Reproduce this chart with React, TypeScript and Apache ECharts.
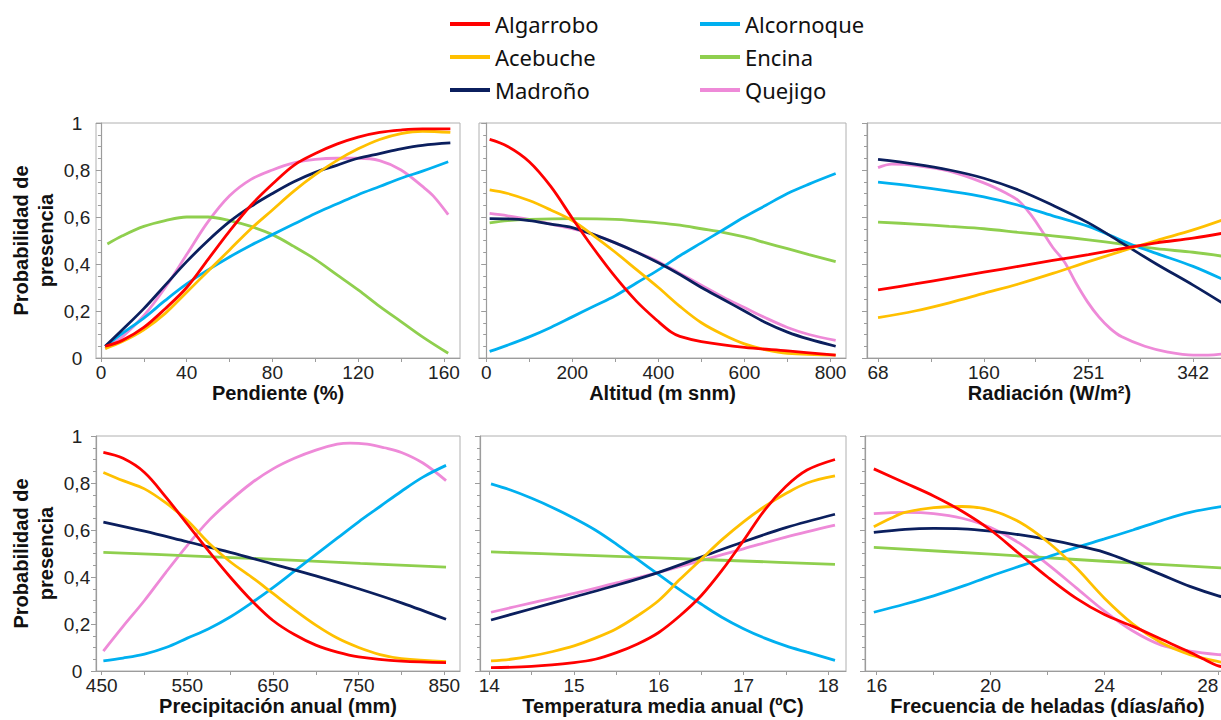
import React, { useEffect, useRef } from "react";
import * as echarts from "echarts";

// ---------- Species & colours ----------
const SPECIES = ["Quejigo", "Encina", "Alcornoque", "Madroño", "Acebuche", "Algarrobo"];
const LEGEND_LEFT = ["Algarrobo", "Acebuche", "Madroño"];
const LEGEND_RIGHT = ["Alcornoque", "Encina", "Quejigo"];
const COLORS: Record<string, string> = {
  Algarrobo: "#ff0000",
  Acebuche: "#ffc000",
  Madroño: "#0b1f5e",
  Alcornoque: "#00b0f0",
  Encina: "#8fcf4e",
  Quejigo: "#ee8ad8",
};

// ---------- Panel 1: Pendiente (%) ----------
const pendAlgarrobo = [[2,0.05],[10,0.075],[20,0.13],[30,0.21],[40,0.30],[50,0.42],[60,0.54],[70,0.65],[80,0.74],[90,0.82],[100,0.87],[110,0.91],[120,0.94],[130,0.96],[140,0.97],[150,0.975],[163,0.975]];
const pendAcebuche = [[2,0.04],[10,0.07],[20,0.12],[30,0.19],[40,0.28],[50,0.37],[60,0.46],[70,0.55],[80,0.63],[90,0.71],[100,0.78],[110,0.84],[120,0.89],[130,0.93],[140,0.955],[150,0.965],[163,0.96]];
const pendMadrono = [[2,0.05],[10,0.12],[20,0.21],[30,0.31],[40,0.41],[50,0.50],[60,0.58],[70,0.645],[80,0.70],[90,0.75],[100,0.79],[110,0.82],[120,0.85],[130,0.87],[140,0.89],[150,0.905],[163,0.915]];
const pendQuejigo = [[2,0.04],[10,0.09],[20,0.18],[30,0.30],[40,0.44],[50,0.58],[60,0.69],[70,0.76],[80,0.80],[90,0.83],[100,0.845],[110,0.85],[120,0.85],[130,0.84],[140,0.80],[150,0.73],[155,0.69],[162,0.61]];
const pendAlcornoque = [[2,0.05],[10,0.105],[20,0.17],[30,0.245],[40,0.315],[50,0.375],[60,0.43],[70,0.48],[80,0.525],[90,0.57],[100,0.615],[110,0.655],[120,0.695],[130,0.73],[140,0.765],[150,0.795],[162,0.835]];
const pendEncina = [[3,0.485],[10,0.52],[20,0.56],[30,0.585],[40,0.60],[50,0.60],[60,0.585],[70,0.56],[80,0.525],[90,0.475],[100,0.42],[110,0.355],[120,0.29],[130,0.22],[140,0.155],[150,0.09],[162,0.02]];

// ---------- Panel 2: Altitud (m snm) ----------
const altAlgarrobo = [[8,0.93],[50,0.9],[100,0.835],[150,0.73],[200,0.595],[250,0.465],[300,0.345],[350,0.24],[400,0.155],[430,0.11],[450,0.092],[500,0.07],[600,0.045],[700,0.03],[812,0.012]];
const altAcebuche = [[8,0.715],[50,0.70],[100,0.67],[150,0.63],[200,0.585],[250,0.52],[300,0.45],[350,0.375],[400,0.30],[450,0.22],[500,0.15],[550,0.10],[600,0.06],[650,0.035],[700,0.02],[812,0.012]];
const altMadrono = [[8,0.593],[50,0.592],[100,0.585],[150,0.57],[200,0.555],[250,0.525],[300,0.49],[350,0.45],[400,0.405],[450,0.355],[500,0.30],[550,0.25],[600,0.20],[650,0.15],[700,0.11],[750,0.08],[812,0.05]];
const altQuejigo = [[8,0.615],[50,0.605],[100,0.59],[150,0.57],[200,0.55],[250,0.525],[300,0.49],[350,0.45],[400,0.41],[450,0.36],[500,0.31],[550,0.26],[600,0.215],[650,0.17],[700,0.13],[750,0.10],[812,0.075]];
const altAlcornoque = [[8,0.028],[50,0.055],[100,0.09],[150,0.13],[200,0.175],[250,0.22],[300,0.265],[350,0.32],[400,0.375],[450,0.435],[500,0.49],[550,0.545],[600,0.60],[650,0.65],[700,0.70],[750,0.74],[812,0.785]];
const altEncina = [[8,0.575],[50,0.585],[100,0.59],[200,0.593],[300,0.59],[400,0.575],[450,0.565],[500,0.55],[550,0.535],[600,0.515],[650,0.49],[700,0.465],[750,0.44],[812,0.41]];

// ---------- Panel 3: Radiación (W/m2) ----------
const radAlgarrobo = [[68,0.29],[100,0.315],[130,0.34],[160,0.365],[190,0.39],[220,0.415],[251,0.44],[280,0.465],[310,0.49],[342,0.51],[372,0.535]];
const radAcebuche = [[68,0.172],[100,0.20],[130,0.235],[160,0.275],[190,0.315],[220,0.36],[251,0.41],[280,0.455],[310,0.50],[342,0.545],[372,0.595]];
const radMadrono = [[68,0.845],[100,0.825],[130,0.80],[160,0.765],[190,0.715],[220,0.65],[251,0.575],[280,0.49],[310,0.40],[342,0.31],[372,0.22]];
const radQuejigo = [[68,0.81],[80,0.825],[100,0.82],[130,0.795],[160,0.745],[180,0.70],[190,0.67],[200,0.615],[210,0.545],[220,0.47],[230,0.41],[240,0.32],[250,0.24],[260,0.175],[270,0.125],[280,0.09],[300,0.05],[320,0.025],[342,0.012],[355,0.012],[372,0.02]];
const radAlcornoque = [[68,0.748],[100,0.73],[130,0.71],[160,0.686],[190,0.65],[220,0.605],[251,0.56],[280,0.50],[290,0.48],[310,0.445],[342,0.39],[372,0.325]];
const radEncina = [[68,0.578],[100,0.57],[130,0.56],[160,0.55],[190,0.535],[220,0.52],[251,0.503],[280,0.485],[310,0.465],[342,0.45],[372,0.43]];

// ---------- Panel 4: Precipitación anual (mm) ----------
const precAlgarrobo = [[452,0.93],[475,0.905],[500,0.845],[525,0.74],[550,0.625],[575,0.51],[600,0.40],[625,0.30],[650,0.215],[675,0.155],[700,0.11],[725,0.08],[750,0.06],[800,0.042],[852,0.036]];
const precAcebuche = [[452,0.845],[475,0.81],[500,0.775],[525,0.715],[550,0.64],[575,0.545],[600,0.465],[625,0.40],[650,0.33],[675,0.26],[700,0.195],[725,0.14],[750,0.10],[775,0.07],[800,0.053],[852,0.04]];
const precMadrono = [[452,0.634],[500,0.595],[550,0.55],[600,0.505],[650,0.455],[700,0.405],[750,0.35],[800,0.29],[852,0.22]];
const precQuejigo = [[452,0.085],[475,0.19],[500,0.30],[525,0.42],[550,0.535],[575,0.64],[600,0.725],[625,0.80],[650,0.86],[675,0.905],[700,0.94],[725,0.965],[740,0.97],[760,0.965],[780,0.95],[800,0.93],[825,0.885],[852,0.81]];
const precAlcornoque = [[452,0.043],[475,0.055],[500,0.072],[525,0.10],[550,0.14],[575,0.18],[600,0.23],[625,0.29],[650,0.355],[675,0.425],[700,0.495],[725,0.565],[750,0.635],[775,0.70],[800,0.765],[825,0.825],[852,0.875]];
const precEncina = [[452,0.505],[552,0.49],[652,0.475],[752,0.458],[852,0.442]];

// ---------- Panel 5: Temperatura media anual (ºC) ----------
const tempAlgarrobo = [[14.02,0.014],[14.5,0.02],[15,0.036],[15.25,0.05],[15.5,0.078],[15.75,0.115],[16,0.164],[16.25,0.235],[16.5,0.32],[16.75,0.43],[17,0.555],[17.25,0.685],[17.5,0.785],[17.75,0.855],[18.08,0.90]];
const tempAcebuche = [[14.02,0.043],[14.25,0.05],[14.5,0.064],[14.75,0.083],[15,0.107],[15.25,0.14],[15.5,0.18],[15.75,0.235],[16,0.30],[16.25,0.39],[16.5,0.475],[16.75,0.56],[17,0.635],[17.25,0.70],[17.5,0.755],[17.75,0.80],[18.08,0.83]];
const tempMadrono = [[14.02,0.217],[14.5,0.265],[15,0.315],[15.5,0.365],[16,0.42],[16.5,0.485],[17,0.55],[17.5,0.61],[18.08,0.667]];
const tempQuejigo = [[14.02,0.25],[14.5,0.29],[15,0.33],[15.5,0.375],[16,0.42],[16.5,0.47],[17,0.52],[17.5,0.57],[18.08,0.621]];
const tempAlcornoque = [[14.02,0.796],[14.25,0.77],[14.5,0.735],[14.75,0.695],[15,0.65],[15.25,0.60],[15.5,0.54],[15.75,0.475],[16,0.41],[16.25,0.345],[16.5,0.285],[16.75,0.228],[17,0.18],[17.25,0.14],[17.5,0.107],[17.75,0.08],[18.08,0.045]];
const tempEncina = [[14.02,0.507],[15,0.494],[16,0.481],[17,0.468],[18.08,0.454]];

// ---------- Panel 6: Frecuencia de heladas (días/año) ----------
const helAlgarrobo = [[15.9,0.86],[17,0.80],[18,0.745],[19,0.68],[20,0.60],[21,0.50],[22,0.40],[23,0.31],[24,0.24],[25,0.19],[26,0.135],[27,0.08],[27.5,0.05],[28,0.022],[28.4,0.015]];
const helAcebuche = [[15.9,0.614],[16.5,0.65],[17,0.675],[18,0.695],[19,0.70],[20,0.685],[21,0.635],[22,0.55],[23,0.44],[24,0.31],[25,0.20],[26,0.12],[27,0.07],[28,0.04],[28.4,0.035]];
const helMadrono = [[15.9,0.59],[17,0.603],[18,0.607],[19,0.605],[20,0.595],[21,0.58],[22,0.56],[23,0.535],[24,0.505],[25,0.46],[26,0.41],[27,0.36],[28,0.32],[28.4,0.31]];
const helQuejigo = [[15.9,0.67],[17,0.675],[18,0.67],[19,0.65],[20,0.61],[21,0.545],[22,0.455],[23,0.355],[24,0.255],[25,0.17],[26,0.11],[27,0.085],[28,0.07],[28.4,0.068]];
const helAlcornoque = [[15.9,0.25],[17,0.285],[18,0.32],[19,0.36],[20,0.404],[21,0.445],[22,0.485],[23,0.525],[24,0.562],[25,0.60],[26,0.64],[27,0.675],[28.4,0.705]];
const helEncina = [[15.9,0.526],[20,0.497],[24,0.467],[28.4,0.437]];

// ---------- Axis tick values & titles ----------
const X_TITLES = ["Pendiente (%)", "Altitud (m snm)", "Radiación (W/m²)", "Precipitación anual (mm)", "Temperatura media anual (ºC)", "Frecuencia de heladas (días/año)"];
const X_LABELS = [[0,40,80,120,160],[0,200,400,600,800],[68,160,251,342],[450,550,650,750,850],[14,15,16,17,18],[16,20,24,28]];
const X_MINOR = [[20,60,100,140],[100,300,500,700],[114,205,296],[500,600,700,800],[14.5,15.5,16.5,17.5],[18,22,26]];
const X_RANGE = [[-2.3,167.5],[-16.7,836],[58.4,375.8],[443.4,868.3],[13.89,18.21],[15.59,28.41]];
const Y_TITLE = "Probabilidad de\npresencia";

const PANEL_DATA: Record<string, number[][]>[] = [
  { Algarrobo: pendAlgarrobo, Acebuche: pendAcebuche, "Madroño": pendMadrono, Quejigo: pendQuejigo, Alcornoque: pendAlcornoque, Encina: pendEncina },
  { Algarrobo: altAlgarrobo, Acebuche: altAcebuche, "Madroño": altMadrono, Quejigo: altQuejigo, Alcornoque: altAlcornoque, Encina: altEncina },
  { Algarrobo: radAlgarrobo, Acebuche: radAcebuche, "Madroño": radMadrono, Quejigo: radQuejigo, Alcornoque: radAlcornoque, Encina: radEncina },
  { Algarrobo: precAlgarrobo, Acebuche: precAcebuche, "Madroño": precMadrono, Quejigo: precQuejigo, Alcornoque: precAlcornoque, Encina: precEncina },
  { Algarrobo: tempAlgarrobo, Acebuche: tempAcebuche, "Madroño": tempMadrono, Quejigo: tempQuejigo, Alcornoque: tempAlcornoque, Encina: tempEncina },
  { Algarrobo: helAlgarrobo, Acebuche: helAcebuche, "Madroño": helMadrono, Quejigo: helQuejigo, Alcornoque: helAlcornoque, Encina: helEncina },
];

const FONT = "'Liberation Sans', Arial, sans-serif";
const AXIS_GRAY = "#9c9c9c";

export default function App() {
  const ref = useRef<HTMLDivElement>(null);
  useEffect(() => {
    if (!ref.current) return;
    const chart = echarts.init(ref.current, undefined, { renderer: "svg" });

    const grids = [
      { left: 96, top: 123, width: 364, height: 235 },
      { left: 479, top: 123, width: 367, height: 235 },
      { left: 867, top: 123, width: 365, height: 235 },
      { left: 96, top: 436, width: 364, height: 235 },
      { left: 480, top: 436, width: 366, height: 235 },
      { left: 865, top: 436, width: 365, height: 235 },
    ].map((g) => ({
      ...g,
      show: true,
      borderColor: "#b0b0b0",
      borderWidth: 1,
      containLabel: false,
      outerBoundsMode: "none",
    }));

    const xAxes = grids.map((_, i) => ({
      type: "value",
      gridIndex: i,
      min: X_RANGE[i][0],
      max: X_RANGE[i][1],
      axisLine: { show: true, onZero: false, lineStyle: { color: AXIS_GRAY, width: 1.2 } },
      axisTick: {
        show: true,
        length: 4,
        customValues: [...X_LABELS[i], ...X_MINOR[i]],
        lineStyle: { color: AXIS_GRAY },
      },
      axisLabel: {
        customValues: X_LABELS[i],
        fontSize: 19,
        color: "#222",
        fontFamily: FONT,
        margin: 5,
        ...(i === 5 ? { alignMaxLabel: "right" } : {}),
      },
      splitLine: { show: false },
      name: X_TITLES[i],
      nameLocation: "middle",
      nameGap: 25,
      nameTextStyle: { fontSize: 20, fontWeight: "bold", color: "#111", fontFamily: FONT },
    }));

    const yAxes = grids.map((_, i) => {
      const first = i % 3 === 0;
      return {
        type: "value",
        gridIndex: i,
        min: 0,
        max: 1,
        interval: 0.2,
        axisLine: { show: true, lineStyle: { color: AXIS_GRAY, width: 1.2 } },
        axisTick: { show: true, length: 5, lineStyle: { color: AXIS_GRAY } },
        minorTick: { show: true, splitNumber: 4, length: 3, lineStyle: { color: AXIS_GRAY } },
        axisLabel: {
          show: first,
          fontSize: 19,
          color: "#222",
          fontFamily: FONT,
          margin: 19,
          align: "center",
          formatter: (v: number) => (v === 0 ? "0" : v === 1 ? "1" : v.toFixed(1).replace(".", ",")),
        },
        splitLine: { show: false },
        minorSplitLine: { show: false },
        name: first ? Y_TITLE : "",
        nameLocation: "middle",
        nameGap: 38,
        nameTextStyle: { fontSize: 20, fontWeight: "bold", color: "#111", fontFamily: FONT, lineHeight: 25 },
      };
    });

    const series: any[] = [];
    PANEL_DATA.forEach((panel, i) => {
      SPECIES.forEach((sp) => {
        series.push({
          type: "line",
          name: sp,
          xAxisIndex: i,
          yAxisIndex: i,
          data: panel[sp],
          smooth: 0.35,
          showSymbol: false,
          symbol: "none",
          color: COLORS[sp],
          lineStyle: { color: COLORS[sp], width: 2.8 },
          clip: true,
        });
      });
    });

    const legendBase = {
      orient: "vertical",
      top: 11,
      padding: 0,
      itemWidth: 40,
      itemHeight: 4,
      itemGap: 7,
      icon: "rect",
      selectedMode: false,
      textStyle: { fontSize: 22, color: "#111", fontFamily: "'Noto Sans', sans-serif", lineHeight: 26 },
    };

    chart.setOption({
      animation: false,
      backgroundColor: "#ffffff",
      legend: [
        { ...legendBase, left: 450, data: LEGEND_LEFT },
        { ...legendBase, left: 700, data: LEGEND_RIGHT },
      ],
      grid: grids,
      xAxis: xAxes,
      yAxis: yAxes,
      series,
    });

    return () => chart.dispose();
  }, []);

  return (
    <div
      ref={ref}
      style={{ position: "fixed", left: 0, top: 0, width: 1221, height: 720 }}
    />
  );
}
